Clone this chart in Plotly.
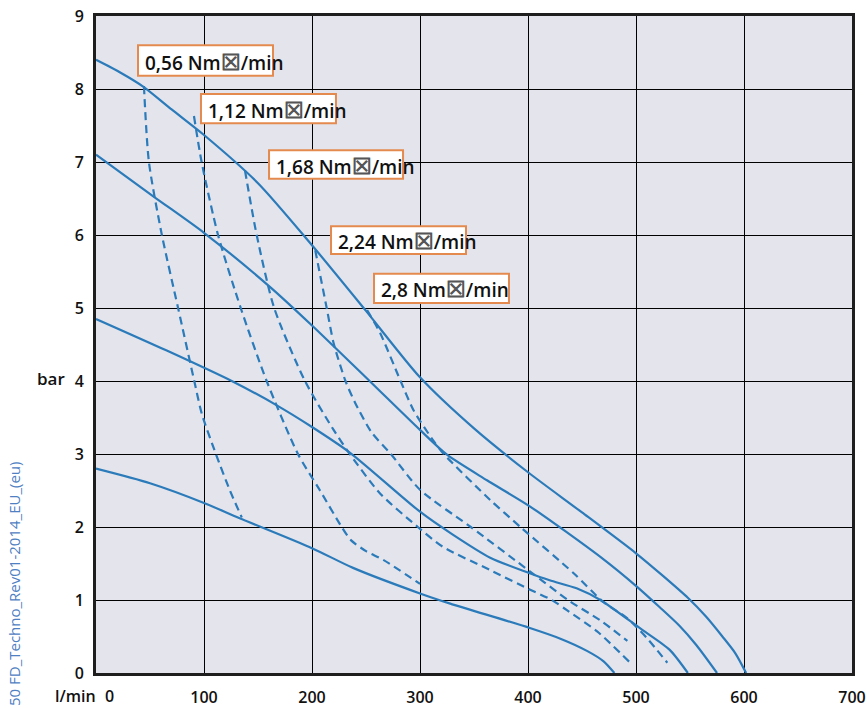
import plotly.graph_objects as go

# ---- data ----
x_ticks = [100, 200, 300, 400, 500, 600, 700]
y_ticks = [0, 1, 2, 3, 4, 5, 6, 7, 8, 9]

# solid pressure curves
a_x = [0, 22, 44, 70, 100, 150, 200, 250, 300, 350, 400, 450, 500, 525, 548, 565, 580, 592, 602]
a_y = [8.4, 8.23, 8.03, 7.72, 7.37, 6.71, 5.86, 4.96, 4.05, 3.35, 2.75, 2.2, 1.64, 1.33, 1.03, 0.77, 0.5, 0.27, 0]
b_x = [0, 54, 100, 161, 200, 254, 300, 325, 362, 402, 467, 501, 522, 540, 556, 575]
b_y = [7.1, 6.52, 6.03, 5.29, 4.76, 3.99, 3.33, 2.99, 2.64, 2.28, 1.59, 1.18, 0.9, 0.65, 0.38, 0]
c_x = [0, 65, 127, 167, 200, 235, 300, 330, 365, 401, 420, 445, 467, 504, 531, 548]
c_y = [4.85, 4.42, 3.99, 3.67, 3.37, 3.02, 2.21, 1.9, 1.58, 1.37, 1.27, 1.16, 1.0, 0.61, 0.32, 0]
d_x = [0, 50, 100, 133, 200, 238, 300, 328, 401, 430, 455, 470, 480]
d_y = [2.8, 2.6, 2.33, 2.12, 1.71, 1.44, 1.09, 0.95, 0.62, 0.47, 0.3, 0.16, 0]

# dashed air-consumption curves
q1_x = [44.4, 49, 61, 76, 91, 98, 111, 124, 135]
q1_y = [8.04, 7.0, 6.0, 5.0, 4.0, 3.55, 3.0, 2.5, 2.13]
q2_x = [90.7, 97.8, 113, 134, 158, 187, 207, 227.5, 236, 250, 266, 300]
q2_y = [7.63, 7.0, 6.0, 5.0, 4.0, 3.0, 2.51, 2.0, 1.82, 1.67, 1.55, 1.22]
q3_x = [138, 148.8, 165, 193.5, 220, 235, 263, 298, 321, 365, 402, 422, 436, 464, 494]
q3_y = [6.88, 6.0, 5.0, 4.0, 3.33, 3.0, 2.46, 2.0, 1.73, 1.41, 1.14, 1.0, 0.86, 0.57, 0.15]
q4_x = [203, 213.6, 220, 231, 240, 255, 273, 300, 347, 402, 437, 467, 492]
q4_y = [5.79, 5.0, 4.52, 4.0, 3.70, 3.3, 3.0, 2.51, 2.0, 1.39, 1.0, 0.72, 0.44]
q5_x = [251, 263, 282, 294, 312, 322, 365, 393, 442, 470, 492, 510, 529]
q5_y = [4.97, 4.66, 4.0, 3.6, 3.19, 3.0, 2.37, 2.0, 1.37, 0.97, 0.75, 0.48, 0.14]

label_texts = ["0,56 Nm☒/min", "1,12 Nm☒/min", "1,68 Nm☒/min", "2,24 Nm☒/min", "2,8 Nm☒/min"]

# ---- figure ----
BLUE = "#2b7bba"
FONT = "Open Sans"
fig = go.Figure()

for xs, ys in [(a_x, a_y), (b_x, b_y), (c_x, c_y), (d_x, d_y)]:
    fig.add_trace(go.Scatter(x=xs, y=ys, mode="lines", hoverinfo="skip",
                             line=dict(color=BLUE, width=2.2, shape="spline", smoothing=0.7)))
for xs, ys in [(q1_x, q1_y), (q2_x, q2_y), (q3_x, q3_y), (q4_x, q4_y), (q5_x, q5_y)]:
    fig.add_trace(go.Scatter(x=xs, y=ys, mode="lines", hoverinfo="skip",
                             line=dict(color=BLUE, width=2.2, dash="8px,5px",
                                       shape="spline", smoothing=0.7)))

# label boxes (data coordinates: left, right, bottom, top)
boxes = [(38.9, 163.9, 8.18, 8.60),
         (97.2, 222.2, 7.53, 7.93),
         (160.2, 284.3, 6.77, 7.16),
         (217.6, 342.6, 5.74, 6.12),
         (257.4, 382.4, 5.07, 5.47)]
for (x0, x1, y0, y1), txt in zip(boxes, label_texts):
    fig.add_shape(type="rect", x0=x0, x1=x1, y0=y0, y1=y1, xref="x", yref="y",
                  fillcolor="white", line=dict(color="#e58a4e", width=2), layer="above")
    fig.add_annotation(x=x0 + 4.2, y=(y0 + y1) / 2, xref="x", yref="y",
                       text=txt.replace("☒", '<span style="color:#555;font-size:22px">☒</span>'),
                       showarrow=False, xanchor="left", yanchor="middle",
                       font=dict(family=FONT, size=19, color="#111", weight=600))

# axis captions
fig.add_annotation(x=-0.0595, y=0.4475, xref="paper", yref="paper", text="bar",
                   showarrow=False, xanchor="center", yanchor="middle",
                   font=dict(family=FONT, size=17, color="#111", weight=600))
fig.add_annotation(x=(98 - 96) / 756, y=(673 - 696) / 657, xref="paper", yref="paper",
                   text="l/min", showarrow=False, xanchor="right", yanchor="middle",
                   font=dict(family=FONT, size=16, color="#111", weight=600))
fig.add_annotation(x=(109 - 96) / 756, y=(673 - 696) / 657, xref="paper", yref="paper",
                   text="0", showarrow=False, xanchor="center", yanchor="middle",
                   font=dict(family=FONT, size=16, color="#111", weight=600))
fig.add_annotation(x=(14 - 96) / 756, y=(673 - 708) / 657, xref="paper", yref="paper",
                   text="50 FD_Techno_Rev01-2014_EU_(eu)", textangle=-90,
                   showarrow=False, xanchor="center", yanchor="bottom",
                   font=dict(family=FONT, size=15, color="#4f80c2"))

fig.update_layout(
    width=867, height=708,
    margin=dict(l=96, r=15, t=16, b=35, autoexpand=False),
    paper_bgcolor="white", plot_bgcolor="#e3e4ec",
    showlegend=False,
    xaxis=dict(range=[0, 700], tickvals=x_ticks, ticktext=[str(v) for v in x_ticks],
               showgrid=True, gridcolor="#000", gridwidth=1, zeroline=False,
               showline=True, linecolor="#1e1e1e", linewidth=3, mirror=True,
               ticks="", tickfont=dict(family=FONT, size=16, color="#111", weight=600),
               ticklabelstandoff=8, automargin=False, fixedrange=True),
    yaxis=dict(range=[0, 9], tickvals=y_ticks, ticktext=[str(v) for v in y_ticks],
               showgrid=True, gridcolor="#000", gridwidth=1, zeroline=False,
               showline=True, linecolor="#1e1e1e", linewidth=3, mirror=True,
               ticks="", tickfont=dict(family=FONT, size=16, color="#111", weight=600),
               ticklabelstandoff=6, automargin=False, fixedrange=True),
)

fig.write_html("out.html", config={"displayModeBar": False},
               post_script="document.body.style.margin='0';document.body.style.overflow='hidden';")
